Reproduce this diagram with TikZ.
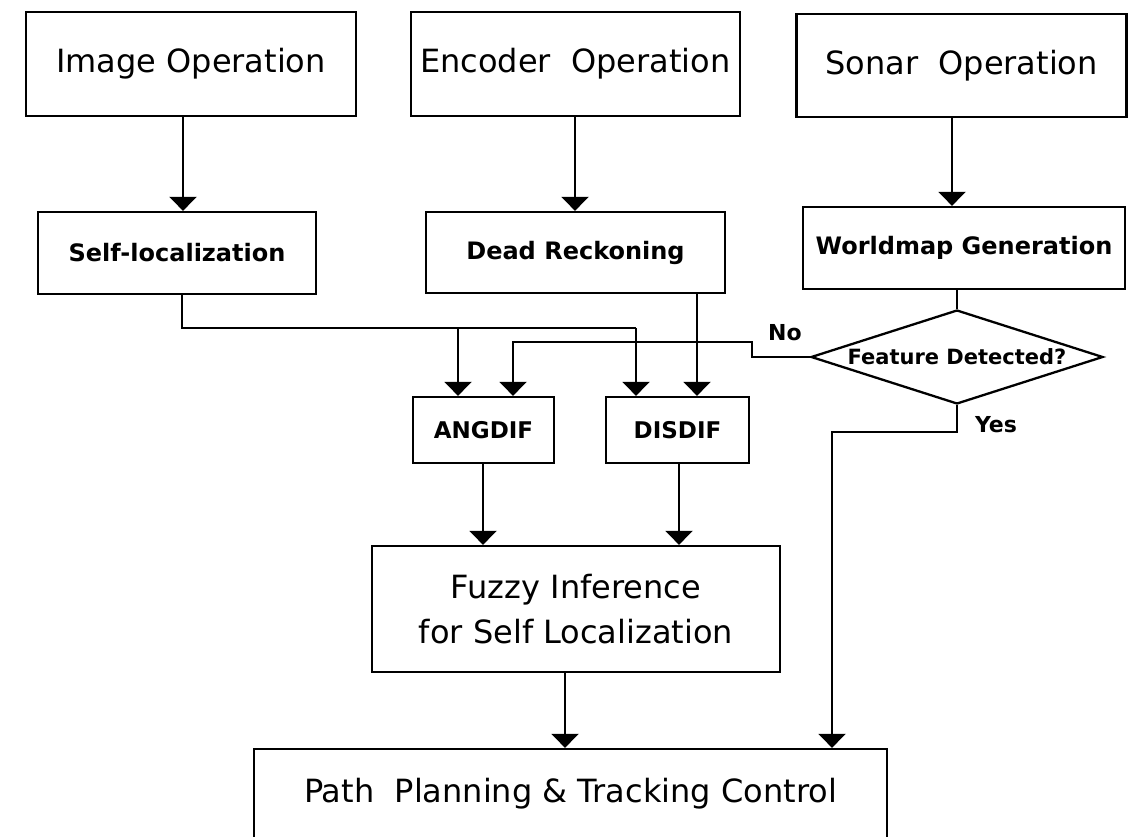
\documentclass[tikz,border=0pt]{standalone}
\usepackage{fontspec}
\setmainfont{DejaVu Sans}
\usetikzlibrary{arrows.meta,shapes.geometric}
\tikzset{
  box/.style={draw=black, line width=2.3pt, rectangle, inner sep=0pt, align=center},
  dbox/.style={draw=black, line width=2.3pt, diamond, inner sep=0pt},
  arr/.style={line width=2.3pt, -{Triangle[width=27pt,length=14pt]}},
  ln/.style={line width=2.3pt},
  bigtxt/.style={font=\fontsize{32}{45}\selectfont},
  medtxt/.style={font=\bfseries\fontsize{24}{28}\selectfont},
  smltxt/.style={font=\bfseries\fontsize{23}{28}\selectfont},
  lbltxt/.style={font=\bfseries\fontsize{22}{26}\selectfont, inner sep=0pt},
}
\begin{document}
\begin{tikzpicture}[x=1pt,y=-1pt]
\useasboundingbox (0,0) rectangle (1128,837);
\fill[white] (0,0) rectangle (1128,837);
\clip (0,0) rectangle (1128,837);

% top row
\node[box, bigtxt, minimum width=330pt, minimum height=104pt] (img) at (191,64) {Image Operation};
\node[box, bigtxt, minimum width=329pt, minimum height=104pt] (enc) at (575.5,64) {Encoder\ \ Operation};
\node[box, bigtxt, minimum width=330pt, minimum height=103pt] (son) at (961.5,65.5) {Sonar\ \ Operation};

% second row
\node[box, medtxt, minimum width=278pt, minimum height=82pt] (sel) at (177,253) {Self-localization};
\node[box, medtxt, minimum width=299pt, minimum height=81pt] (dr) at (575.5,252.5) {Dead Reckoning};
\node[box, medtxt, minimum width=322pt, minimum height=82pt] (wm) at (964,248) {Worldmap Generation};

% decision
\node[dbox, minimum width=292pt, minimum height=94pt] (dia) at (957,357)
  {\makebox[0pt]{\bfseries\fontsize{21}{24}\selectfont Feature Detected?}};

% third row
\node[box, smltxt, minimum width=141pt, minimum height=66pt] (ang) at (483.5,430) {ANGDIF};
\node[box, smltxt, minimum width=143pt, minimum height=66pt] (dis) at (677.5,430) {DISDIF};

% fuzzy
\node[box, bigtxt, minimum width=408pt, minimum height=126pt] (fuz) at (576,609) {Fuzzy Inference\\for Self Localization};

% path planning (bottom edge outside the picture)
\node[box, bigtxt, minimum width=633pt, minimum height=90pt] (path) at (570.5,794) {Path\ \ Planning \& Tracking Control};

% helper coordinates
\coordinate (xa) at (183,0);
\coordinate (xb) at (575,0);
\coordinate (xc) at (952,0);
\coordinate (j1) at (182,328);
\coordinate (j2) at (636,328);
\coordinate (j3) at (458,328);
\coordinate (xd) at (697,0);
\coordinate (n1) at (752,342);
\coordinate (n2) at (513,342);
\coordinate (y1) at (832,432);
\coordinate (xe) at (483,0);
\coordinate (xf) at (679,0);
\coordinate (xg) at (565,0);

% connectors
\draw[arr] (xa |- img.south) -- (xa |- sel.north);
\draw[arr] (xb |- enc.south) -- (xb |- dr.north);
\draw[arr] (xc |- son.south) -- (xc |- wm.north);

\draw[ln] (j1 |- sel.south) -- (j1) -- (j2);
\draw[arr] (j2) -- (j2 |- dis.north);
\draw[arr] (j3) -- (j3 |- ang.north);
\draw[arr] (xd |- dr.south) -- (xd |- dis.north);

\draw[ln] (dia.north |- wm.south) -- (dia.north);

\draw[arr] (dia.west) -- (n1 |- dia.west) -- (n1) -- (n2) -- (n2 |- ang.north);
\draw[arr] (dia.south) -- (dia.south |- y1) -- (y1) -- (y1 |- path.north);

\draw[arr] (xe |- ang.south) -- (xe |- fuz.north);
\draw[arr] (xf |- dis.south) -- (xf |- fuz.north);
\draw[arr] (xg |- fuz.south) -- (xg |- path.north);

% labels
\node[lbltxt] (no) at (785,333) {No};
\node[lbltxt] (yes) at (996,425) {Yes};
\end{tikzpicture}
\end{document}
